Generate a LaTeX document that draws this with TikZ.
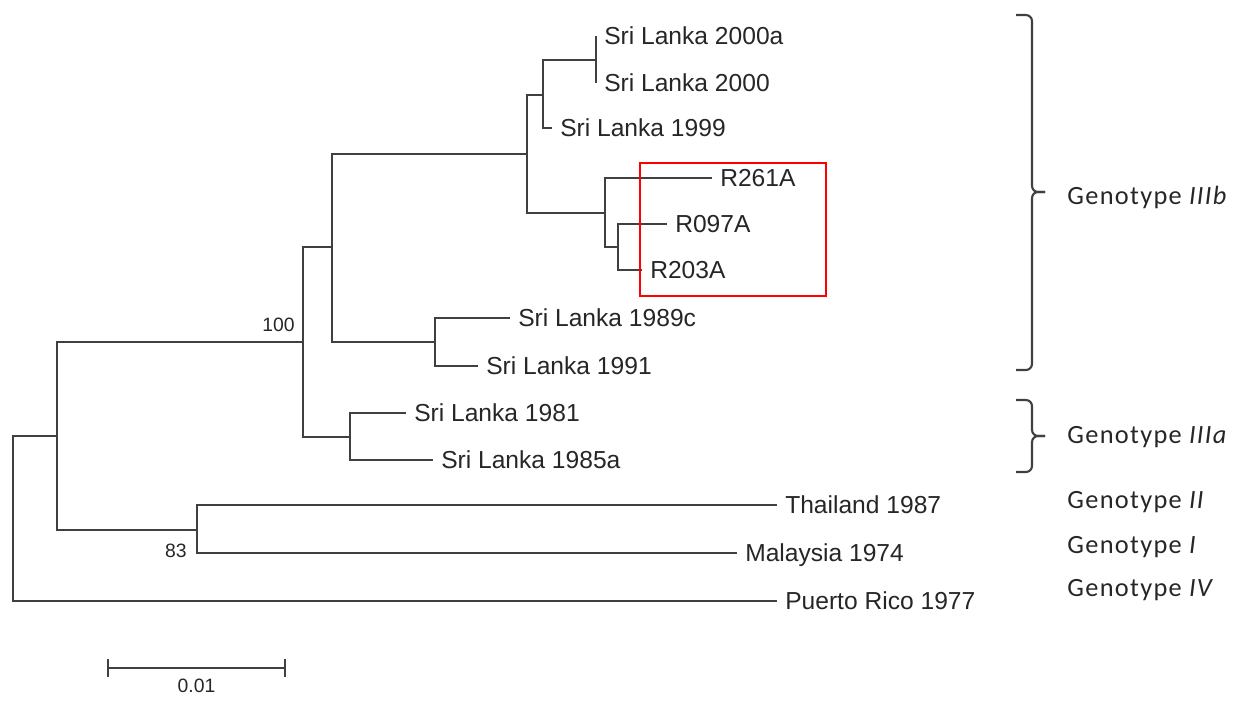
\documentclass[tikz,border=0pt]{standalone}
\usepackage{fontspec}
\setmainfont{Liberation Sans}
\newfontfamily\genofont[LetterSpace=5]{Carlito}
\usepackage{tikz}
\usetikzlibrary{positioning, calc}
\definecolor{treeline}{HTML}{404040}
\definecolor{treetext}{HTML}{262626}
\tikzset{
    tree/.style={x=0.02cm, y=-0.02cm},
    branch/.style={draw=treeline, line width=1.2pt},
    leaf/.style={anchor=west, font=\fontsize{14}{16}\selectfont, text=treetext,
        text height=10pt, text depth=0pt, inner xsep=4.5pt, inner ysep=0pt},
    boot/.style={font=\fontsize{11}{13}\selectfont, text=treetext, inner sep=0pt},
    clade brace/.style={draw=treeline, line width=1.2pt, rounded corners=3.5pt},
    genotype/.style={anchor=west, font=\genofont\fontsize{15}{18}\selectfont, text=treetext,
        inner sep=0pt},
    highlight/.style={draw=red, line width=0.9pt},
}

\begin{document}
\begin{tikzpicture}[tree]
  \useasboundingbox (0,0) rectangle (1244,700);
  % internal nodes
  \coordinate (root) at (13,518);
  \coordinate (nA) at (57,436);
  \coordinate (n100) at (303,342);
  \coordinate (n83) at (197,530);
  \coordinate (nIIIa) at (350,437);
  \coordinate (nIIIb) at (332,247);
  \coordinate (n89) at (435,342);
  \coordinate (nNew) at (527,154);
  \coordinate (n99) at (543,95);
  \coordinate (n2000) at (596,60);
  \coordinate (nR) at (605,213);
  \coordinate (nR2) at (618,247);
  % tips
  \node[leaf] (sl2000a) at (596,36) {Sri Lanka 2000a};
  \node[leaf] (sl2000) at (596,83) {Sri Lanka 2000};
  \node[leaf] (sl1999) at (552,128) {Sri Lanka 1999};
  \node[leaf] (r261a) at (712,178) {R261A};
  \node[leaf] (r097a) at (667,224) {R097A};
  \node[leaf] (r203a) at (642,270) {R203A};
  \node[leaf] (sl1989c) at (510,318) {Sri Lanka 1989c};
  \node[leaf] (sl1991) at (478,366) {Sri Lanka 1991};
  \node[leaf] (sl1981) at (406,413) {Sri Lanka 1981};
  \node[leaf] (sl1985a) at (433,460) {Sri Lanka 1985a};
  \node[leaf] (thai) at (777,505) {Thailand 1987};
  \node[leaf] (malay) at (737,553) {Malaysia 1974};
  \node[leaf] (prico) at (777,601) {Puerto Rico 1977};
  % branches
  \foreach \p/\c in {root/nA, root/prico.west, nA/n100, nA/n83,
      n83/thai.west, n83/malay.west, n100/nIIIb, n100/nIIIa,
      nIIIa/sl1981.west, nIIIa/sl1985a.west, nIIIb/nNew, nIIIb/n89,
      n89/sl1989c.west, n89/sl1991.west, nNew/n99, nNew/nR,
      n99/n2000, n99/sl1999.west, n2000/sl2000a.west, n2000/sl2000.west,
      nR/r261a.west, nR/nR2, nR2/r097a.west, nR2/r203a.west}
    \draw[branch] (\p) |- (\c);
  % bootstrap values
  \node[boot, above left=0.2cm and 0.16cm of n100] (b100) {100};
  \node[boot, below left=0.28cm and 0.2cm of n83] (b83) {83};
  % highlighted samples
  \node[highlight, minimum width=3.72cm, minimum height=2.66cm, anchor=north west]
    (newbox) at (639,162) {};
  % genotype brackets
  \coordinate (bIIIb) at (1045,192);
  \coordinate (bIIIa) at (1045,436);
  \draw[clade brace] (1016,15) -- (1032,15) -- (1032,192) -- (bIIIb);
  \draw[clade brace] (1016,370) -- (1032,370) -- (1032,192) -- (bIIIb);
  \draw[clade brace] (1016,400) -- (1032,400) -- (1032,436) -- (bIIIa);
  \draw[clade brace] (1016,472) -- (1032,472) -- (1032,436) -- (bIIIa);
  \node[genotype] (gIIIb) at (1067,197) {Genotype \textit{IIIb}};
  \node[genotype] (gIIIa) at (1067,437) {Genotype \textit{IIIa}};
  \node[genotype] (gII) at (1067,502) {Genotype \textit{II}};
  \node[genotype] (gI) at (1067,547) {Genotype \textit{I}};
  \node[genotype] (gIV) at (1067,590) {Genotype \textit{IV}};
  % scale bar
  \coordinate (sbl) at (108,668);
  \coordinate (sbr) at (285,668);
  \draw[branch] (sbl) -- (sbr);
  \draw[branch] ([yshift=0.18cm]sbl) -- ([yshift=-0.18cm]sbl);
  \draw[branch] ([yshift=0.18cm]sbr) -- ([yshift=-0.18cm]sbr);
  \node[boot, below=0.22cm of $(sbl)!0.5!(sbr)$] (sblabel) {0.01};
\end{tikzpicture}
\end{document}
